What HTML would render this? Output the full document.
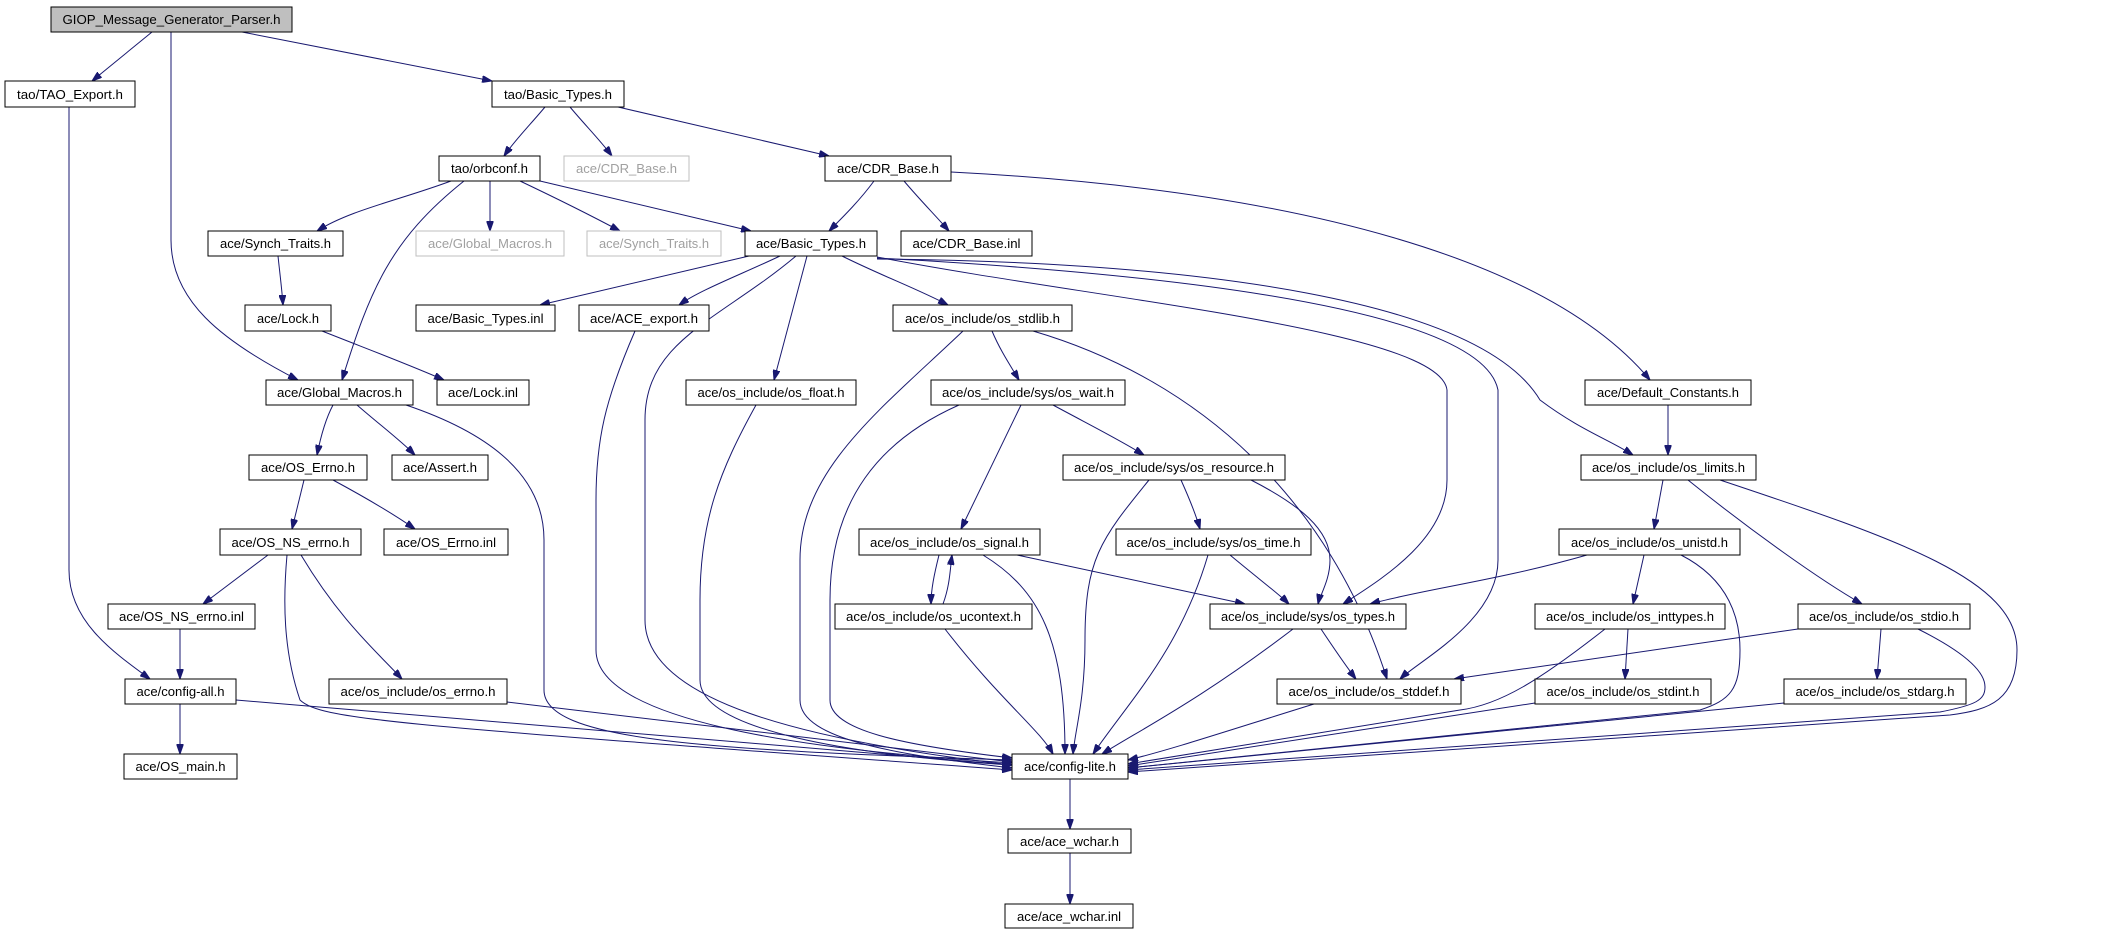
<!DOCTYPE html>
<html><head><meta charset="utf-8"><style>
html,body{margin:0;padding:0;background:#fff}
svg{display:block}
text{font-family:"Liberation Sans",sans-serif;font-size:13px;text-anchor:middle}
.e{fill:none;stroke:#191970;stroke-width:1}
rect{fill:#fff;stroke:#000;stroke-width:1}
rect.g{stroke:#bfbfbf}
text.g{fill:#a0a0a0}
</style></head><body>
<svg width="2109" height="933" viewBox="0 0 2109 933" xmlns="http://www.w3.org/2000/svg">
<defs><marker id="a" markerWidth="10" markerHeight="7" refX="10" refY="3.5" orient="auto" markerUnits="userSpaceOnUse"><path d="M0,0 L10,3.5 L0,7 z" fill="#191970" stroke="#191970"/></marker></defs>
<g class="e" marker-end="url(#a)">
<path d="M152,32 L92,81"/>
<path d="M242,32 L492,81"/>
<path d="M171,32 L171,240 C171,300 220,340 298,380"/>
<path d="M69,107 L69,570 C69,620 110,650 150,679"/>
<path d="M545,107 C530,125 515,140 504,156"/>
<path d="M570,107 C585,125 600,140 612,156"/>
<path d="M618,107 L829,156"/>
<path d="M451,181 C400,200 350,210 317,231"/>
<path d="M490,181 L490,231"/>
<path d="M520,181 C560,200 590,215 620,231"/>
<path d="M540,181 L751,231"/>
<path d="M464,181 C390,240 370,290 342,380"/>
<path d="M874,181 C860,200 845,215 829,231"/>
<path d="M904,181 C920,200 935,215 949,231"/>
<path d="M951,172 C1300,190 1550,260 1650,380"/>
<path d="M278,256 C280,275 282,290 283,305"/>
<path d="M322,331 C370,350 410,365 444,380"/>
<path d="M749,256 L540,305"/>
<path d="M780,256 C740,275 700,290 679,305"/>
<path d="M807,256 L774,380"/>
<path d="M842,256 C880,275 920,290 948,305"/>
<path d="M796,256 C720,320 645,340 645,420 L645,620 C645,700 800,740 1012,765"/>
<path d="M877,257 C1100,300 1440,330 1447,390 L1447,480 C1447,540 1380,580 1343,604"/>
<path d="M877,258 C1100,270 1480,300 1498,390 L1498,560 C1498,620 1420,660 1400,679"/>
<path d="M877,259 C1200,262 1480,300 1540,400 C1580,430 1610,440 1633,455"/>
<path d="M635,331 C605,400 596,440 596,500 L596,650 C596,720 800,750 1012,763"/>
<path d="M756,405 C720,470 700,520 700,600 L700,680 C700,730 850,755 1012,765"/>
<path d="M963,331 C880,410 800,470 800,560 L800,700 C800,740 900,755 1012,768"/>
<path d="M992,331 C1000,350 1010,365 1019,380"/>
<path d="M1033,331 C1200,380 1330,500 1387,679"/>
<path d="M959,405 C880,440 830,500 830,600 L830,700 C830,730 900,745 1012,758"/>
<path d="M1021,405 L961,529"/>
<path d="M1053,405 C1090,425 1120,440 1144,455"/>
<path d="M1149,480 C1100,540 1085,560 1085,640 C1085,700 1075,730 1073,754"/>
<path d="M1181,480 C1190,500 1196,515 1200,529"/>
<path d="M1251,480 C1300,505 1330,530 1330,560 C1330,580 1320,595 1318,604"/>
<path d="M939,555 C934,575 931,590 931,604"/>
<path d="M943,604 C950,585 950,570 952,555"/>
<path d="M983,555 C1040,590 1065,640 1065,754"/>
<path d="M1017,555 L1245,604"/>
<path d="M1208,555 C1180,650 1130,700 1093,754"/>
<path d="M1230,555 C1260,580 1280,595 1289,604"/>
<path d="M945,629 C1000,700 1040,730 1053,754"/>
<path d="M1293,629 C1200,700 1140,730 1102,754"/>
<path d="M1321,629 C1335,650 1345,665 1356,679"/>
<path d="M1314,704 C1230,730 1170,750 1128,760"/>
<path d="M1668,405 L1668,455"/>
<path d="M1663,480 L1654,529"/>
<path d="M1688,480 C1750,530 1820,580 1862,604"/>
<path d="M1720,480 C1900,540 2017,580 2017,650 C2017,700 1990,710 1950,715 L1128,772"/>
<path d="M1587,555 C1500,580 1420,590 1370,604"/>
<path d="M1644,555 L1633,604"/>
<path d="M1681,555 C1730,580 1740,620 1740,650 C1740,690 1730,700 1700,710 L1128,768"/>
<path d="M1628,629 L1625,679"/>
<path d="M1605,629 C1540,680 1500,705 1460,710 L1128,764"/>
<path d="M1798,629 L1454,679"/>
<path d="M1881,629 L1877,679"/>
<path d="M1918,629 C1960,650 1985,670 1985,687 C1985,700 1976,705 1940,712 L1128,770"/>
<path d="M1535,703 L1128,766"/>
<path d="M1784,703 L1128,768"/>
<path d="M333,405 C325,420 320,440 317,455"/>
<path d="M357,405 C380,425 400,440 415,455"/>
<path d="M406,405 C480,430 544,470 544,540 L544,690 C544,740 700,750 1012,760"/>
<path d="M304,480 L292,529"/>
<path d="M333,480 C370,500 395,515 415,529"/>
<path d="M268,555 L203,604"/>
<path d="M301,555 C340,620 375,650 402,679"/>
<path d="M287,555 C283,600 283,650 300,700 C320,720 400,725 1012,770"/>
<path d="M180,629 L180,679"/>
<path d="M180,704 L180,754"/>
<path d="M236,700 L1012,765"/>
<path d="M507,702 L1012,762"/>
<path d="M1070,779 L1070,829"/>
<path d="M1070,853 L1070,904"/>
</g>
<g>
<rect x="51" y="7" width="241" height="25" style="fill:#bfbfbf"/><text x="171.5" y="24" textLength="218" lengthAdjust="spacingAndGlyphs">GIOP_Message_Generator_Parser.h</text>
<rect x="5" y="81" width="130" height="26"/><text x="70" y="99" textLength="106" lengthAdjust="spacingAndGlyphs">tao/TAO_Export.h</text>
<rect x="492" y="81" width="132" height="26"/><text x="558" y="99" textLength="108" lengthAdjust="spacingAndGlyphs">tao/Basic_Types.h</text>
<rect x="439" y="156" width="101" height="25"/><text x="489.5" y="173" textLength="77" lengthAdjust="spacingAndGlyphs">tao/orbconf.h</text>
<rect class="g" x="564" y="156" width="125" height="25"/><text class="g" x="626.5" y="173" textLength="101" lengthAdjust="spacingAndGlyphs">ace/CDR_Base.h</text>
<rect x="825" y="156" width="126" height="25"/><text x="888" y="173" textLength="102" lengthAdjust="spacingAndGlyphs">ace/CDR_Base.h</text>
<rect x="208" y="231" width="135" height="25"/><text x="275.5" y="248" textLength="111" lengthAdjust="spacingAndGlyphs">ace/Synch_Traits.h</text>
<rect class="g" x="416" y="231" width="148" height="25"/><text class="g" x="490" y="248" textLength="124" lengthAdjust="spacingAndGlyphs">ace/Global_Macros.h</text>
<rect class="g" x="587" y="231" width="134" height="25"/><text class="g" x="654" y="248" textLength="110" lengthAdjust="spacingAndGlyphs">ace/Synch_Traits.h</text>
<rect x="745" y="231" width="132" height="25"/><text x="811" y="248" textLength="110" lengthAdjust="spacingAndGlyphs">ace/Basic_Types.h</text>
<rect x="901" y="231" width="131" height="25"/><text x="966.5" y="248" textLength="108" lengthAdjust="spacingAndGlyphs">ace/CDR_Base.inl</text>
<rect x="245" y="305" width="86" height="26"/><text x="288" y="323" textLength="62" lengthAdjust="spacingAndGlyphs">ace/Lock.h</text>
<rect x="416" y="305" width="139" height="26"/><text x="485.5" y="323" textLength="116" lengthAdjust="spacingAndGlyphs">ace/Basic_Types.inl</text>
<rect x="579" y="305" width="130" height="26"/><text x="644" y="323" textLength="108" lengthAdjust="spacingAndGlyphs">ace/ACE_export.h</text>
<rect x="893" y="305" width="179" height="26"/><text x="982.5" y="323" textLength="155" lengthAdjust="spacingAndGlyphs">ace/os_include/os_stdlib.h</text>
<rect x="266" y="380" width="147" height="25"/><text x="339.5" y="397" textLength="125" lengthAdjust="spacingAndGlyphs">ace/Global_Macros.h</text>
<rect x="437" y="380" width="92" height="25"/><text x="483" y="397" textLength="70" lengthAdjust="spacingAndGlyphs">ace/Lock.inl</text>
<rect x="686" y="380" width="170" height="25"/><text x="771" y="397" textLength="147" lengthAdjust="spacingAndGlyphs">ace/os_include/os_float.h</text>
<rect x="931" y="380" width="194" height="25"/><text x="1028" y="397" textLength="172" lengthAdjust="spacingAndGlyphs">ace/os_include/sys/os_wait.h</text>
<rect x="1585" y="380" width="166" height="25"/><text x="1668" y="397" textLength="142" lengthAdjust="spacingAndGlyphs">ace/Default_Constants.h</text>
<rect x="249" y="455" width="118" height="25"/><text x="308" y="472" textLength="94" lengthAdjust="spacingAndGlyphs">ace/OS_Errno.h</text>
<rect x="392" y="455" width="96" height="25"/><text x="440" y="472" textLength="74" lengthAdjust="spacingAndGlyphs">ace/Assert.h</text>
<rect x="1063" y="455" width="222" height="25"/><text x="1174" y="472" textLength="200" lengthAdjust="spacingAndGlyphs">ace/os_include/sys/os_resource.h</text>
<rect x="1581" y="455" width="175" height="25"/><text x="1668.5" y="472" textLength="153" lengthAdjust="spacingAndGlyphs">ace/os_include/os_limits.h</text>
<rect x="220" y="529" width="141" height="26"/><text x="290.5" y="547" textLength="118" lengthAdjust="spacingAndGlyphs">ace/OS_NS_errno.h</text>
<rect x="384" y="529" width="124" height="26"/><text x="446" y="547" textLength="100" lengthAdjust="spacingAndGlyphs">ace/OS_Errno.inl</text>
<rect x="859" y="529" width="181" height="26"/><text x="949.5" y="547" textLength="159" lengthAdjust="spacingAndGlyphs">ace/os_include/os_signal.h</text>
<rect x="1116" y="529" width="195" height="26"/><text x="1213.5" y="547" textLength="174" lengthAdjust="spacingAndGlyphs">ace/os_include/sys/os_time.h</text>
<rect x="1559" y="529" width="181" height="26"/><text x="1649.5" y="547" textLength="157" lengthAdjust="spacingAndGlyphs">ace/os_include/os_unistd.h</text>
<rect x="108" y="604" width="147" height="25"/><text x="181.5" y="621" textLength="125" lengthAdjust="spacingAndGlyphs">ace/OS_NS_errno.inl</text>
<rect x="835" y="604" width="197" height="25"/><text x="933.5" y="621" textLength="175" lengthAdjust="spacingAndGlyphs">ace/os_include/os_ucontext.h</text>
<rect x="1210" y="604" width="196" height="25"/><text x="1308" y="621" textLength="174" lengthAdjust="spacingAndGlyphs">ace/os_include/sys/os_types.h</text>
<rect x="1535" y="604" width="190" height="25"/><text x="1630" y="621" textLength="168" lengthAdjust="spacingAndGlyphs">ace/os_include/os_inttypes.h</text>
<rect x="1798" y="604" width="172" height="25"/><text x="1884" y="621" textLength="150" lengthAdjust="spacingAndGlyphs">ace/os_include/os_stdio.h</text>
<rect x="125" y="679" width="111" height="25"/><text x="180.5" y="696" textLength="88" lengthAdjust="spacingAndGlyphs">ace/config-all.h</text>
<rect x="329" y="679" width="178" height="25"/><text x="418" y="696" textLength="155" lengthAdjust="spacingAndGlyphs">ace/os_include/os_errno.h</text>
<rect x="1277" y="679" width="184" height="25"/><text x="1369" y="696" textLength="161" lengthAdjust="spacingAndGlyphs">ace/os_include/os_stddef.h</text>
<rect x="1535" y="679" width="176" height="25"/><text x="1623" y="696" textLength="153" lengthAdjust="spacingAndGlyphs">ace/os_include/os_stdint.h</text>
<rect x="1784" y="679" width="182" height="25"/><text x="1875" y="696" textLength="159" lengthAdjust="spacingAndGlyphs">ace/os_include/os_stdarg.h</text>
<rect x="124" y="754" width="113" height="25"/><text x="180.5" y="771" textLength="90" lengthAdjust="spacingAndGlyphs">ace/OS_main.h</text>
<rect x="1012" y="754" width="116" height="25"/><text x="1070" y="771" textLength="92" lengthAdjust="spacingAndGlyphs">ace/config-lite.h</text>
<rect x="1008" y="829" width="123" height="24"/><text x="1069.5" y="846" textLength="99" lengthAdjust="spacingAndGlyphs">ace/ace_wchar.h</text>
<rect x="1005" y="904" width="128" height="24"/><text x="1069" y="921" textLength="104" lengthAdjust="spacingAndGlyphs">ace/ace_wchar.inl</text>
</g>
</svg>
</body></html>
